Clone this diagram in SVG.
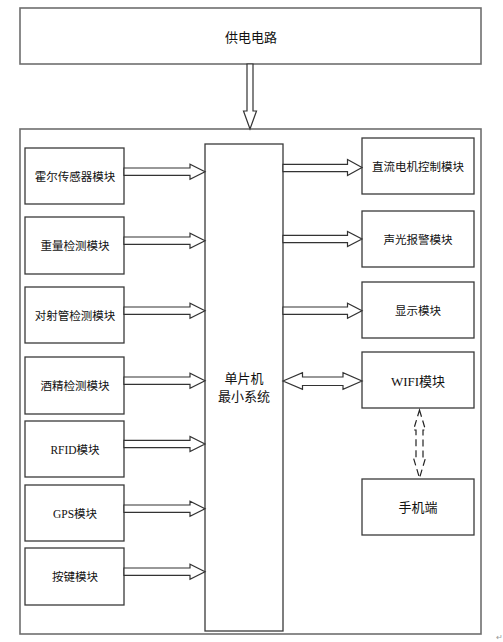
<svg xmlns="http://www.w3.org/2000/svg" width="503" height="642" viewBox="0 0 503 642">
<style>
.box{fill:#fff;stroke:#3a3a3a;stroke-width:1.3}
.outer{fill:#fff;stroke:#6e6e6e;stroke-width:1.6}
.arr{fill:#fff;stroke:#333;stroke-width:1.2;stroke-linejoin:miter}
.dash{fill:none;stroke:#222;stroke-width:1.2;stroke-dasharray:7,4}
text{font-family:"Liberation Serif","Noto Sans CJK SC",serif;fill:#111;text-anchor:middle;dominant-baseline:central}
.s{font-size:11.5px}
.m{font-size:13px}
</style>
<rect width="503" height="642" fill="#fff"/>
<g id="power"><rect class="outer" x="20" y="8" width="461" height="56"/><text class="m" x="251" y="37">供电电路</text></g>
<g id="system"><rect class="outer" x="20" y="129" width="461" height="505"/></g>
<g id="hall"><rect class="box" x="25" y="148" width="99" height="56"/><text class="s" x="75" y="177">霍尔传感器模块</text></g>
<g id="weight"><rect class="box" x="25" y="217" width="99" height="57"/><text class="s" x="75" y="246">重量检测模块</text></g>
<g id="beam"><rect class="box" x="25" y="287" width="99" height="56"/><text class="s" x="75" y="316">对射管检测模块</text></g>
<g id="alcohol"><rect class="box" x="25" y="357" width="99" height="57"/><text class="s" x="75" y="386">酒精检测模块</text></g>
<g id="rfid"><rect class="box" x="25" y="421" width="99" height="56"/><text class="s" x="75" y="450">RFID模块</text></g>
<g id="gps"><rect class="box" x="25" y="485" width="99" height="56"/><text class="s" x="75" y="514">GPS模块</text></g>
<g id="keys"><rect class="box" x="25" y="548" width="99" height="57"/><text class="s" x="75" y="577">按键模块</text></g>
<g id="mcu"><rect class="box" x="205" y="144" width="78" height="487"/><text class="m" x="244" y="378">单片机</text><text class="m" x="244" y="396">最小系统</text></g>
<g id="motor"><rect class="box" x="362" y="138" width="112" height="56"/><text class="s" x="418" y="167">直流电机控制模块</text></g>
<g id="alarm"><rect class="box" x="362" y="211" width="112" height="56"/><text class="s" x="418" y="240">声光报警模块</text></g>
<g id="display"><rect class="box" x="362" y="282" width="112" height="56"/><text class="s" x="418" y="311">显示模块</text></g>
<g id="wifi"><rect class="box" x="362" y="352" width="112" height="56"/><text class="m" x="418" y="381">WIFI模块</text></g>
<g id="phone"><rect class="box" x="362" y="479" width="112" height="56"/><text class="m" x="418" y="507">手机端</text></g>
<g id="connectors">
<polygon class="arr" points="247,64 253,64 253,111 256.5,111 250,129 243.5,111 247,111"/>
<polygon class="arr" points="124,168 190,168 190,164.2 205,171.7 190,179.2 190,175.4 124,175.4"/>
<polygon class="arr" points="124,237 190,237 190,233.2 205,240.7 190,248.2 190,244.4 124,244.4"/>
<polygon class="arr" points="124,307 190,307 190,303.2 205,310.7 190,318.2 190,314.4 124,314.4"/>
<polygon class="arr" points="124,377 190,377 190,373.2 205,380.7 190,388.2 190,384.4 124,384.4"/>
<polygon class="arr" points="124,440.3 190,440.3 190,436.5 205,444 190,451.5 190,447.7 124,447.7"/>
<polygon class="arr" points="124,505 190,505 190,501.2 205,508.7 190,516.2 190,512.4 124,512.4"/>
<polygon class="arr" points="124,568 190,568 190,564.2 205,571.7 190,579.2 190,575.4 124,575.4"/>
<polygon class="arr" points="283,164.3 347.5,164.3 347.5,159.5 362,167.5 347.5,175.5 347.5,171.7 283,171.7"/>
<polygon class="arr" points="283,235.3 347.5,235.3 347.5,231.5 362,239 347.5,246.5 347.5,242.7 283,242.7"/>
<polygon class="arr" points="283,307 347.5,307 347.5,303.2 362,310.7 347.5,318.2 347.5,314.4 283,314.4"/>
<polygon class="arr" points="283,381 302.5,372.7 302.5,377 343,377 343,372.7 362,381 343,389.3 343,385.5 302.5,385.5 302.5,389.3"/>
<polygon class="dash" points="419.5,410 425.5,430 423,430 423,458 425.5,458 419.5,478 413.5,458 416,458 416,430 413.5,430"/>
</g>
<text x="499" y="637" style="font-size:8px;fill:#999">↵</text>
</svg>
